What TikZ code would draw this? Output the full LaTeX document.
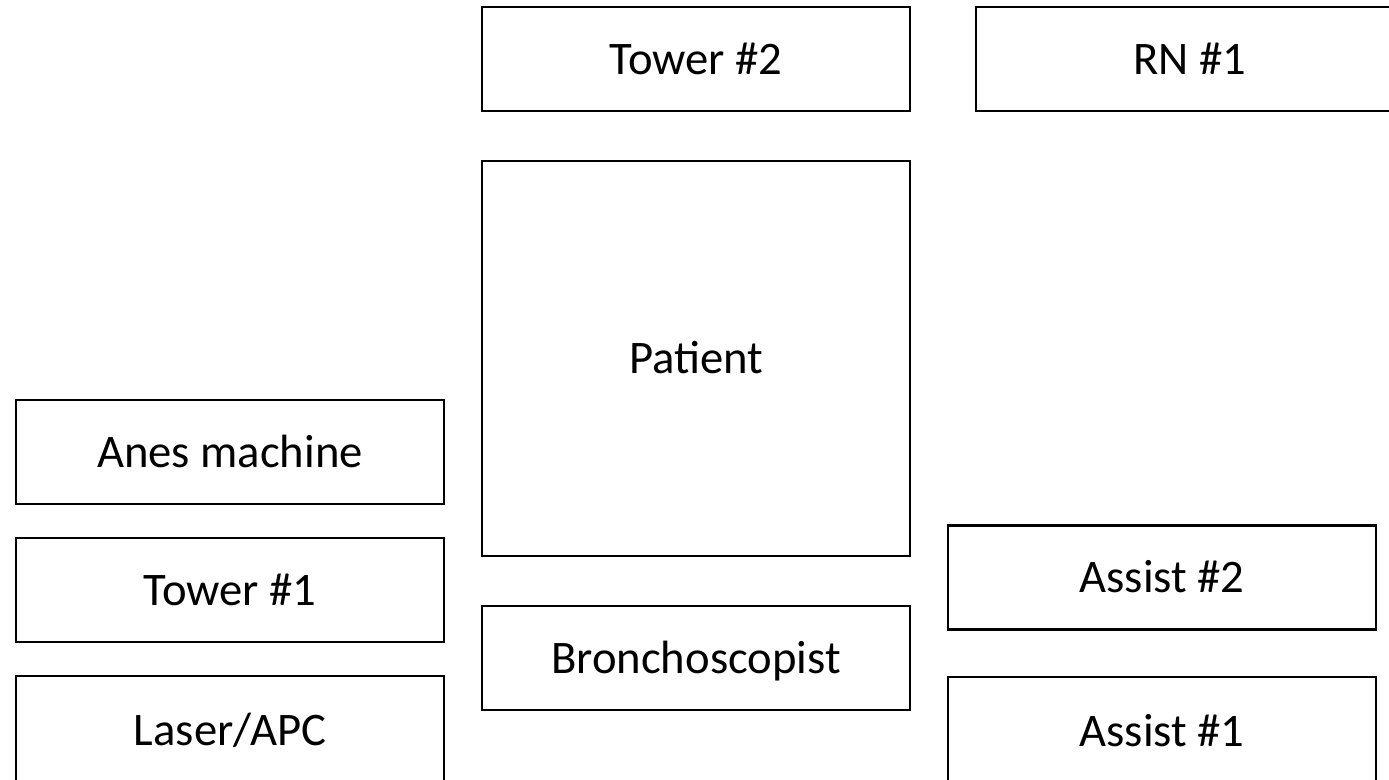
\documentclass[tikz,border=0pt]{standalone}
\usepackage{fontspec}
\setmainfont{Carlito}
\begin{document}
\begin{tikzpicture}[x=0.75pt,y=-0.75pt,
  box/.style={draw=black, line width=1.8pt, rectangle, inner sep=0pt, outer sep=0pt,
    minimum width=321pt, minimum height=78pt, text height=22.5pt, text depth=0pt,
    font=\fontsize{35}{42}\selectfont}]
\useasboundingbox (0,0) rectangle (1389,779);
\clip (0,0) rectangle (1389,779);
\node[box] (tower2) at (696,59) {Tower \#2};
\node[box] (rn1) at (1190,59) {RN \#1};
\node[box, minimum height=296.25pt] (patient) at (696,358.5) {Patient};
\node[box] (anes) at (230,452) {Anes machine};
\node[box] (tower1) at (230,590) {Tower \#1};
\node[box, minimum height=81pt] (laser) at (230,730) {Laser/APC};
\node[box] (bronch) at (696,658) {Bronchoscopist};
\node[box] (assist2) at (1162,577.5) {Assist \#2};
\node[box, minimum height=81pt] (assist1) at (1162,731) {Assist \#1};
\end{tikzpicture}
\end{document}
